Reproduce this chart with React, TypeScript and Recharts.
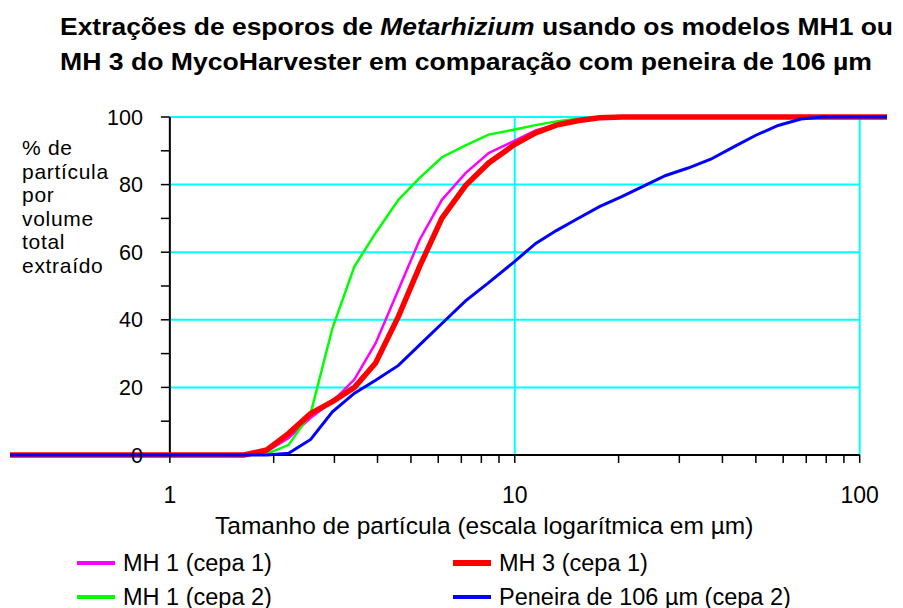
import React from "react";
import { LineChart, Line, XAxis, YAxis, ReferenceLine, Legend } from "recharts";

// particle size (µm) and cumulative % by volume
const sizes = [0.344, 1.64, 1.91, 2.21, 2.56, 2.96, 3.43, 3.95, 4.6, 5.3, 6.15, 7.2, 8.4, 10, 11.5, 13.2, 15.2, 17.6, 20.5, 23.7, 27.4, 31.8, 37, 43, 50, 58, 67.6, 78, 90.6, 105, 120];
const mh1Cepa1 = [0, 0, 1, 5, 11, 15.8, 22.4, 33.1, 48.9, 63.7, 75.5, 83.4, 89.3, 93, 96, 97.8, 99, 99.8, 100, 100, 100, 100, 100, 100, 100, 100, 100, 100, 100, 100, 100];
const mh1Cepa2 = [0, 0, 0.3, 3, 12.3, 37.5, 55.8, 65.7, 75.5, 82, 88.1, 91.6, 94.8, 96.3, 97.6, 98.7, 99.5, 100, 100, 100, 100, 100, 100, 100, 100, 100, 100, 100, 100, 100, 100];
const mh3Cepa1 = [0, 0, 1.5, 6.4, 12.3, 15.8, 20, 27.2, 41, 55.8, 70.1, 79.7, 86.4, 91.9, 95.3, 97.6, 98.9, 99.8, 100, 100, 100, 100, 100, 100, 100, 100, 100, 100, 100, 100, 100];
const peneira = [0, 0, 0, 0.5, 4.6, 12.8, 18.3, 22.1, 26.5, 32.6, 38.9, 45.6, 51, 57.3, 62.6, 66.4, 69.9, 73.5, 76.5, 79.6, 82.7, 84.9, 87.5, 91.1, 94.6, 97.5, 99.4, 100, 100, 100, 100];

const yMajor = [0, 20, 40, 60, 80, 100];
const yMinor = [10, 30, 50, 70, 90];
const xTicks = [1, 2, 3, 4, 5, 6, 7, 8, 9, 10, 20, 30, 40, 50, 60, 70, 80, 90, 100];
const xLabels = [1, 10, 100];
const xGrid = [10, 100];
const yTickStart = 0.942; // where the y tick marks begin, in x units

const titleLine2 = "MH 3 do MycoHarvester em comparação com peneira de 106 µm";
const yTitle = ["% de", "partícula", "por", "volume", "total", "extraído"];
const xTitle = "Tamanho de partícula (escala logarítmica em µm)";

const series = [
  { key: "mh1c1", name: "MH 1 (cepa 1)", color: "#ff00ff", width: 2.5, values: mh1Cepa1 },
  { key: "mh1c2", name: "MH 1 (cepa 2)", color: "#00ff00", width: 2.5, values: mh1Cepa2 },
  { key: "mh3c1", name: "MH 3 (cepa 1)", color: "#ff0000", width: 5.5, values: mh3Cepa1 },
  { key: "pen", name: "Peneira de 106 µm (cepa 2)", color: "#0000ff", width: 3, values: peneira },
];

const data = sizes.map((size, i) => {
  const row: any = { size };
  series.forEach((s) => (row[s.key] = s.values[i]));
  return row;
});

const font = '"Liberation Sans", Arial, sans-serif';
const cyan = "#00ffff";

const renderLegend = () => (
  <div
    style={{
      display: "grid",
      gridTemplateColumns: "376px 340px",
      gridTemplateRows: "34px 34px",
      gridAutoFlow: "column",
      fontFamily: font,
      fontSize: 23.5,
      color: "#000",
    }}
  >
    {series.map((s) => (
      <div key={s.key} style={{ display: "flex", alignItems: "center", gap: 8 }}>
        <span style={{ width: 38, height: Math.max(3.3, s.width + 1), background: s.color }} />
        <span>{s.name}</span>
      </div>
    ))}
  </div>
);

export default function App() {
  return (
    <div style={{ position: "relative", width: 895, height: 600 }}>
      <LineChart width={895} height={600} data={data} margin={{ top: 109, right: 16, left: 2, bottom: 93 }}>
        <XAxis
          dataKey="size"
          type="number"
          scale="log"
          domain={[sizes[0], sizes[sizes.length - 1]]}
          ticks={xTicks}
          interval={0}
          height={60}
          axisLine={false}
          tickLine={{ stroke: "#000", strokeWidth: 1.5 }}
          tickSize={8}
          tickMargin={24}
          tickFormatter={(v) => (xLabels.includes(v) ? String(v) : "")}
          tick={{ fill: "#000", fontSize: 23, fontFamily: font }}
        />
        <YAxis hide type="number" domain={[0, 100]} />

        {yMajor.filter((v) => v > 0).map((v) => (
          <ReferenceLine key={`h${v}`} segment={[{ x: 1, y: v }, { x: 100, y: v }]} stroke={cyan} strokeWidth={2} />
        ))}
        {xGrid.map((v) => (
          <ReferenceLine key={`v${v}`} x={v} stroke={cyan} strokeWidth={2} />
        ))}
        <ReferenceLine segment={[{ x: sizes[0], y: 0 }, { x: 100, y: 0 }]} stroke="#000" strokeWidth={2} />
        <ReferenceLine x={1} stroke="#000" strokeWidth={2} />
        {yMajor.map((v) => (
          <ReferenceLine
            key={`t${v}`}
            segment={[{ x: yTickStart, y: v }, { x: 1, y: v }]}
            stroke="#000"
            strokeWidth={1.5}
            label={{ value: v, position: "left", offset: 18, fill: "#000", fontSize: 21.5, fontFamily: font }}
          />
        ))}
        {yMinor.map((v) => (
          <ReferenceLine key={`m${v}`} segment={[{ x: yTickStart, y: v }, { x: 1, y: v }]} stroke="#000" strokeWidth={1.5} />
        ))}

        {series.map((s) => (
          <Line
            key={s.key}
            type="linear"
            dataKey={s.key}
            name={s.name}
            stroke={s.color}
            strokeWidth={s.width}
            dot={false}
            activeDot={false}
            isAnimationActive={false}
          />
        ))}

        <Legend
          layout="horizontal"
          verticalAlign="middle"
          align="center"
          content={renderLegend}
          wrapperStyle={{ top: 538, left: 69, width: 760, height: 68 }}
        />
      </LineChart>

      <svg width={895} height={600} style={{ position: "absolute", left: 0, top: 0, pointerEvents: "none" }}>
        <text x={52} y={27} fontFamily={font} fontWeight="bold" fontSize={23.5} textLength={833} lengthAdjust="spacingAndGlyphs">
          Extrações de esporos de <tspan fontStyle="italic">Metarhizium</tspan> usando os modelos MH1 ou
        </text>
        <text x={52} y={62} fontFamily={font} fontWeight="bold" fontSize={23.5} textLength={812} lengthAdjust="spacingAndGlyphs">
          {titleLine2}
        </text>
        <text x={207} y={526} fontFamily={font} fontSize={24.5}>
          {xTitle}
        </text>
      </svg>

      <div
        style={{
          position: "absolute",
          left: 14,
          top: 128,
          fontFamily: font,
          fontSize: 21,
          letterSpacing: 0.7,
          lineHeight: "23.5px",
          color: "#000",
          pointerEvents: "none",
        }}
      >
        {yTitle.map((t, i) => (
          <React.Fragment key={t}>
            {i > 0 && <br />}
            {t}
          </React.Fragment>
        ))}
      </div>
    </div>
  );
}
